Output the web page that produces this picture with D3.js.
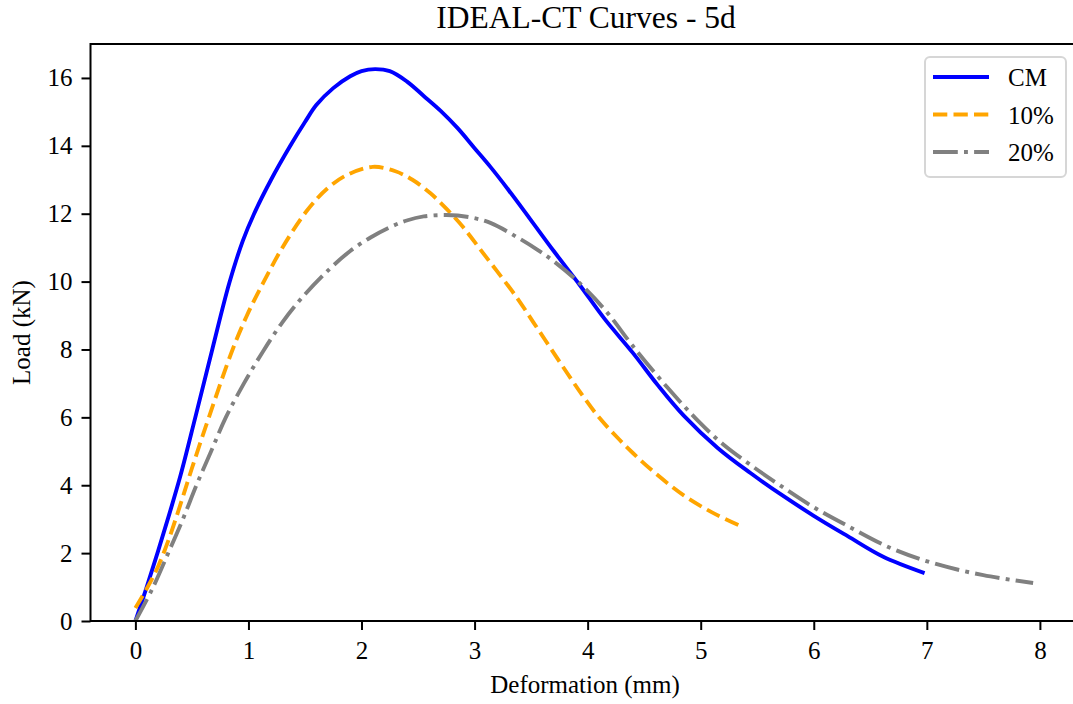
<!DOCTYPE html>
<html>
<head>
  <meta charset="UTF-8">
  <style>
    body { margin: 0; background: #fff; }
    text { font-family: "Liberation Serif", "Times New Roman", serif; fill: #000; }
  </style>
</head>
<body>
<script type='text/javascript' src='https://d3js.org/d3.v7.min.js'></script>
<script>
var width = 1073, height = 704;

// data (deformation mm, load kN)
var cmX   = [0, 0.1, 0.2, 0.3, 0.4, 0.53, 0.68, 0.83, 0.95, 1.05, 1.2, 1.37, 1.5, 1.6, 1.75, 1.9, 2.0, 2.12, 2.25, 2.4, 2.55, 2.7, 2.85, 3.0, 3.14, 3.3, 3.49, 3.7, 3.93, 4.15, 4.4, 4.62, 4.85, 5.15, 5.44, 5.7, 6.0, 6.3, 6.61, 6.98];
var cmY   = [0, 1.0, 2.05, 3.15, 4.3, 6.0, 8.0, 9.95, 11.2, 12.0, 13.0, 14.0, 14.7, 15.2, 15.7, 16.05, 16.2, 16.26, 16.2, 15.9, 15.47, 15.03, 14.52, 13.93, 13.38, 12.7, 11.85, 10.9, 9.9, 8.9, 7.9, 6.95, 6.05, 5.1, 4.36, 3.75, 3.1, 2.5, 1.9, 1.41];
var p10X  = [0, 0.1, 0.2, 0.3, 0.4, 0.5, 0.65, 0.86, 1.0, 1.13, 1.3, 1.52, 1.7, 1.87, 2.1, 2.3, 2.45, 2.61, 2.75, 2.9, 3.05, 3.2, 3.38, 3.52, 3.67, 3.82, 3.96, 4.1, 4.25, 4.4, 4.6, 4.85, 5.1, 5.35];
var p10Y  = [0.38, 0.95, 1.6, 2.45, 3.45, 4.5, 6.0, 8.0, 9.1, 9.96, 11.0, 12.1, 12.75, 13.14, 13.38, 13.25, 13.0, 12.6, 12.15, 11.6, 10.95, 10.3, 9.5, 8.8, 8.05, 7.3, 6.62, 6.0, 5.45, 4.95, 4.35, 3.7, 3.2, 2.8];
var p20X  = [0, 0.15, 0.29, 0.42, 0.54, 0.67, 0.8, 0.96, 1.13, 1.3, 1.48, 1.72, 1.9, 2.08, 2.25, 2.4, 2.55, 2.75, 2.95, 3.14, 3.38, 3.55, 3.7, 3.93, 4.17, 4.4, 4.7, 4.99, 5.2, 5.44, 5.7, 6.0, 6.3, 6.68, 7.06, 7.5, 7.94];
var p20Y  = [0, 0.95, 2, 3.0, 4, 5.0, 6, 7.0, 7.95, 8.8, 9.55, 10.38, 10.9, 11.3, 11.6, 11.8, 11.92, 11.96, 11.9, 11.73, 11.3, 10.95, 10.6, 9.95, 9.1, 8.1, 6.9, 5.85, 5.2, 4.6, 4.0, 3.35, 2.8, 2.15, 1.7, 1.35, 1.12];

var seriesNames = ['CM', '10%', '20%'];
var xTicks = [0, 1, 2, 3, 4, 5, 6, 7, 8];
var yTicks = [0, 2, 4, 6, 8, 10, 12, 14, 16];

var series = [
  {name: seriesNames[0], xs: cmX, ys: cmY, color: '#0000ff', dash: null},
  {name: seriesNames[1], xs: p10X, ys: p10Y, color: '#ffa500', dash: '14.3,6.2'},
  {name: seriesNames[2], xs: p20X, ys: p20Y, color: '#808080', dash: '24.8,6.2,3.9,6.2'}
];

// plot box (window.top is taken, so prefixed names)
var pL = 90.5, pR = 1078, pT = 44, pB = 621;

var svg = d3.select('body').append('svg').attr('width', width).attr('height', height);

var x = d3.scaleLinear().domain([-0.397, 8.337]).range([pL, pR]);
var y = d3.scaleLinear().domain([0, 17.0]).range([pB, pT]);

// lines
var line = d3.line()
  .x(function(d) { return x(d[0]); })
  .y(function(d) { return y(d[1]); })
  .curve(d3.curveCatmullRom.alpha(0.5));

svg.append('defs').append('clipPath').attr('id', 'clip')
  .append('rect').attr('x', pL).attr('y', pT).attr('width', pR - pL).attr('height', pB - pT);

svg.append('g').attr('clip-path', 'url(#clip)')
  .selectAll('path')
  .data(series)
  .join('path')
  .attr('d', function(s) { return line(s.xs.map(function(v, i) { return [v, s.ys[i]]; })); })
  .attr('fill', 'none')
  .attr('stroke', function(s) { return s.color; })
  .attr('stroke-width', 3.9)
  .attr('stroke-dasharray', function(s) { return s.dash; });

// axes
var xAxis = svg.append('g').attr('transform', 'translate(0,' + pB + ')')
  .call(d3.axisBottom(x).tickValues(xTicks).tickSize(9).tickPadding(11).tickFormat(d3.format('d')));
var yAxis = svg.append('g').attr('transform', 'translate(' + pL + ',0)')
  .call(d3.axisLeft(y).tickValues(yTicks).tickSize(9).tickPadding(9).tickFormat(d3.format('d')));

[xAxis, yAxis].forEach(function(a) {
  a.select('.domain').remove();
  a.selectAll('line').attr('stroke', '#000').attr('stroke-width', 2);
  a.selectAll('text').attr('font-size', 25).attr('font-family', '"Liberation Serif", serif');
});

// frame
svg.append('rect')
  .attr('x', pL).attr('y', pT).attr('width', pR - pL).attr('height', pB - pT)
  .attr('fill', 'none').attr('stroke', '#000').attr('stroke-width', 2);

// title & labels
svg.append('text').attr('x', 586).attr('y', 28)
  .attr('text-anchor', 'middle').attr('font-size', 31.5).text('IDEAL-CT Curves - 5d');
svg.append('text').attr('x', 585).attr('y', 693)
  .attr('text-anchor', 'middle').attr('font-size', 25).text('Deformation (mm)');
svg.append('text').attr('transform', 'translate(30,' + ((pT + pB) / 2) + ') rotate(-90)')
  .attr('text-anchor', 'middle').attr('font-size', 25).text('Load (kN)');

// legend
var lg = svg.append('g');
lg.append('rect').attr('x', 925).attr('y', 57).attr('width', 141).attr('height', 120).attr('rx', 5)
  .attr('fill', '#fff').attr('fill-opacity', 0.8).attr('stroke', '#d6d6d6').attr('stroke-width', 2);
var item = lg.selectAll('g.item').data(series).join('g').attr('class', 'item')
  .attr('transform', function(d, i) { return 'translate(933,' + (77 + i * 37.5) + ')'; });
item.append('line').attr('x1', 0).attr('x2', 56).attr('y1', 0).attr('y2', 0)
  .attr('stroke', function(s) { return s.color; })
  .attr('stroke-width', 3.9)
  .attr('stroke-dasharray', function(s) { return s.dash; });
item.append('text').attr('x', 75).attr('y', 9).attr('font-size', 25).text(function(s) { return s.name; });
</script>
</body>
</html>
